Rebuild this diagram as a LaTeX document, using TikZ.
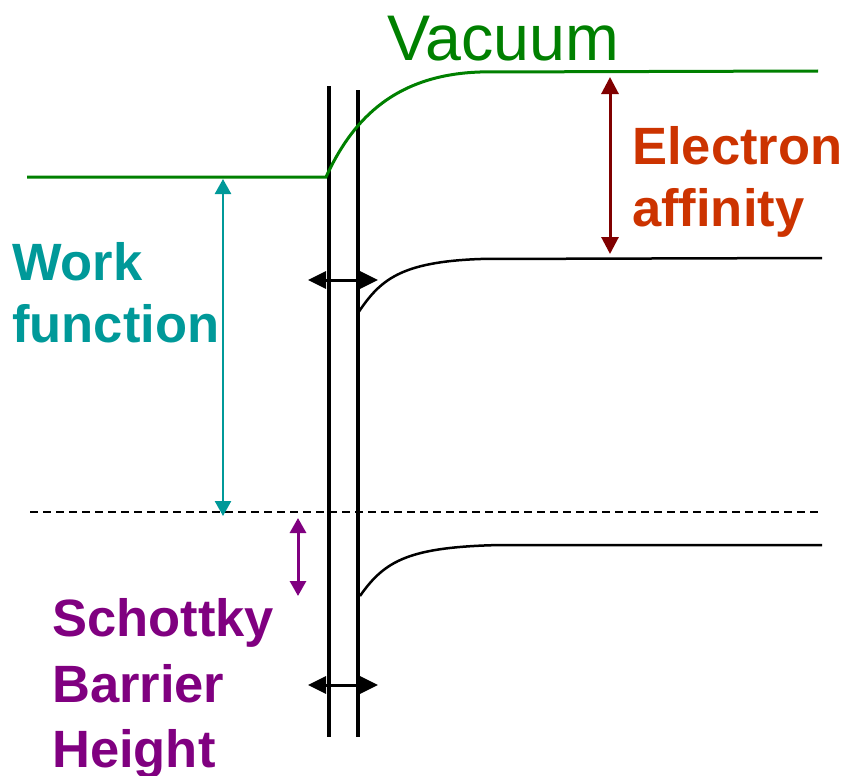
\documentclass[tikz,border=0pt]{standalone}
\usepackage{fontspec}
\setmainfont{Liberation Sans}
\usetikzlibrary{arrows.meta}
\definecolor{vacgreen}{RGB}{0,128,0}
\definecolor{wfteal}{RGB}{0,153,153}
\definecolor{eaorange}{RGB}{204,51,0}
\definecolor{eadark}{RGB}{128,0,0}
\definecolor{sbpurple}{RGB}{128,0,128}
\tikzset{
  dbl/.style={line width=3pt,{Triangle[length=15pt,width=16pt]}-{Triangle[length=15pt,width=16pt]}},
  hdbl/.style={black,line width=3pt,{Triangle[length=18pt,width=17pt]}-{Triangle[length=18pt,width=17pt]}},
  wall/.style={line width=3.5pt,black},
  band/.style={line width=2.5pt,black},
  lbl/.style={anchor=base west,inner sep=0pt,font=\fontsize{52.5}{62}\selectfont\bfseries},
}
\begin{document}
\begin{tikzpicture}[x=1pt,y=-1pt]
\useasboundingbox (0,0) rectangle (846,776);
% walls
\coordinate (w1t) at (329,86);  \coordinate (w1b) at (329,737);
\coordinate (w2t) at (358,90);  \coordinate (w2b) at (358,737);
\draw[wall] (w1t) -- (w1b);
\draw[wall] (w2t) -- (w2b);
% vacuum level
\coordinate (vl) at (27,177);
\coordinate (vk) at (326,177);
\coordinate (vm) at (480,72);
\coordinate (vr) at (818,71);
\draw[vacgreen,line width=3pt] (vl) -- (vk) .. controls (350,125) and (390,75) .. (vm) -- (vr);
% conduction band
\coordinate (cs) at (358,313);
\coordinate (cm) at (480,259);
\coordinate (cr) at (822,258);
\draw[band] (cs) .. controls (380,280) and (400,262) .. (cm) -- (cr);
% lower band
\coordinate (ls) at (360,596);
\coordinate (lm) at (500,545);
\coordinate (lr) at (822,545);
\draw[band] (ls) .. controls (385,560) and (410,547) .. (lm) -- (lr);
% Fermi level
\coordinate (fl) at (30,512);
\coordinate (fr) at (822,512);
\draw[black,line width=2pt,dash pattern=on 8pt off 5pt] (fl) -- (fr);
% arrows
\coordinate (wft) at (223,179); \coordinate (wfb) at (223,516);
\draw[dbl,wfteal,line width=2.5pt] (wft) -- (wfb);
\coordinate (eat) at (610,77); \coordinate (eab) at (610,254);
\draw[dbl,eadark,{Triangle[length=17pt,width=17pt]}-{Triangle[length=17pt,width=17pt]}] (eat) -- (eab);
\coordinate (sbt) at (298,518); \coordinate (sbb) at (298,596);
\draw[dbl,sbpurple] (sbt) -- (sbb);
\coordinate (h1l) at (308,280); \coordinate (h1r) at (378,280);
\draw[hdbl] (h1l) -- (h1r);
\coordinate (h2l) at (308,685); \coordinate (h2r) at (378,685);
\draw[hdbl] (h2l) -- (h2r);
% labels
\node[anchor=base west,inner sep=0pt,text=vacgreen,font=\fontsize{64.5}{70}\selectfont] (vac) at (387,60) {Vacuum};
\node[lbl,text=eaorange] (ea1) at (632,164) {Electron};
\node[lbl,text=eaorange] (ea2) at (632,226) {affinity};
\node[lbl,text=wfteal] (wf1) at (12,280) {Work};
\node[lbl,text=wfteal] (wf2) at (12,342) {function};
\node[lbl,text=sbpurple] (sb1) at (52,636) {Schottky};
\node[lbl,text=sbpurple] (sb2) at (52,702) {Barrier};
\node[lbl,text=sbpurple] (sb3) at (52,767) {Height};
\end{tikzpicture}
\end{document}
